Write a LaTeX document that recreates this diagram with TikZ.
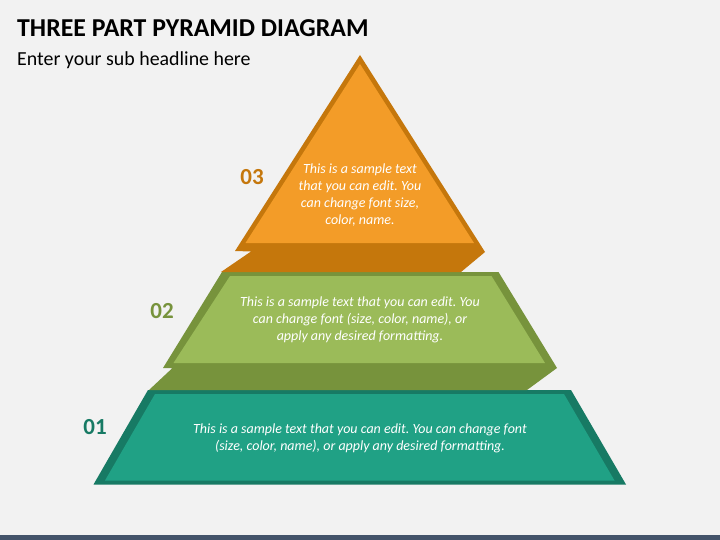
\documentclass[tikz,border=0pt]{standalone}
\usepackage{fontspec}
\setmainfont{Carlito}
\frenchspacing
\definecolor{bg}{HTML}{F2F2F2}
\definecolor{orL}{HTML}{F39C28}
\definecolor{orD}{HTML}{C5770C}
\definecolor{grL}{HTML}{9BBB59}
\definecolor{grD}{HTML}{77933C}
\definecolor{tlL}{HTML}{20A185}
\definecolor{tlD}{HTML}{177A64}
\definecolor{bar}{HTML}{44546A}
\tikzset{
  body/.style={text=white, font=\fontsize{14}{17}\selectfont\itshape, align=center, inner sep=0pt},
  num/.style={font=\fontsize{23}{26}\selectfont\bfseries, inner sep=0pt}
}
\begin{document}
\begin{tikzpicture}[x=1pt,y=-1pt]
\fill[bg] (0,0) rectangle (720,540);
\useasboundingbox (0,0) rectangle (720,540);
\fill[bar] (0,535) rectangle (720,540);
% title
\node[anchor=base west, inner sep=0pt, font=\fontsize{25.8}{30}\selectfont\bfseries] (title) at (17,37) {THREE PART PYRAMID DIAGRAM};
\node[anchor=base west, inner sep=0pt, font=\fontsize{19.9}{24}\selectfont] (sub) at (17,66) {Enter your sub headline here};
% level 01 (teal)
\fill[tlD] (148,390) -- (571,390) -- (626,484.5) -- (93.5,484.5) -- cycle;
\fill[tlL] (155,394) -- (564,394) -- (614.5,480.5) -- (105,480.5) -- cycle;
% level 02 (green) with extruded band
\fill[grD] (222,272) -- (498.5,272) -- (557,368) -- (527,390) -- (149,390) -- (172.5,368) -- (163,368) -- cycle;
\fill[grL] (230,276) -- (491.5,276) -- (545,363) -- (173.5,363) -- cycle;
% level 03 (orange) with extruded band
\fill[orD] (360,55) -- (485,252) -- (461,272) -- (221,272) -- (251,251.5) -- (235,251) -- cycle;
\fill[orL] (360,64) -- (474,243) -- (245.5,243) -- cycle;
% texts
\node[body] (t3) at (360,195.5) {This is a sample text\\that you can edit. You\\can change font size,\\color, name.};
\node[body] (t2) at (360,319.5) {This is a sample text that you can edit. You\\can change font (size, color, name), or\\apply any desired formatting.};
\node[body] (t1) at (360,438) {This is a sample text that you can edit. You can change font\\(size, color, name), or apply any desired formatting.};
% numbers
\node[num, text=orD] (n3) at (252,177) {03};
\node[num, text=grD] (n2) at (162,311) {02};
\node[num, text=tlD] (n1) at (95,427) {01};
\end{tikzpicture}
\end{document}
